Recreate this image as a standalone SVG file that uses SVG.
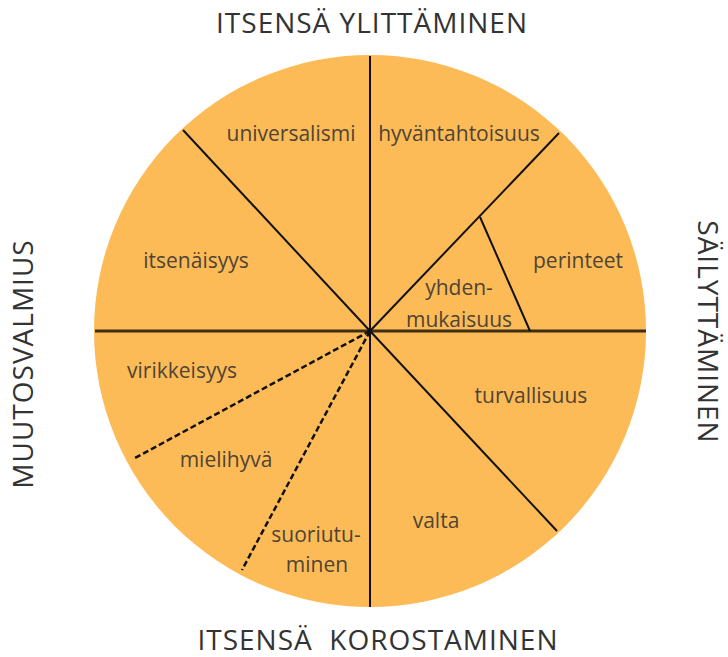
<svg xmlns="http://www.w3.org/2000/svg" width="728" height="657" viewBox="0 0 728 657">
<style>
.lbl{font-family:"Open Sans","Liberation Sans",sans-serif;font-size:21px;fill:#4f4434;text-anchor:middle}
.ttl{font-family:"Open Sans","Liberation Sans",sans-serif;font-size:28px;letter-spacing:1px;fill:#333;text-anchor:middle}
.ln{stroke:#111;stroke-width:2;fill:none}
.dash{stroke:#111;stroke-width:2.5;stroke-dasharray:6 3;fill:none}
</style>
<rect width="728" height="657" fill="#fff"/>
<g id="circle"><circle cx="370" cy="331" r="276" fill="#FDBB58"/></g>
<g id="connectors">
<line class="ln" x1="370" y1="56" x2="370" y2="607"/>
<line x1="95" y1="331" x2="646" y2="331" stroke="#3d2e14" stroke-width="3"/>
<line class="ln" x1="370" y1="331" x2="183" y2="130"/>
<line class="ln" x1="370" y1="331" x2="559" y2="133"/>
<line class="ln" x1="370" y1="331" x2="557" y2="531"/>
<line class="ln" x1="480" y1="217" x2="530" y2="331"/>
<line class="dash" x1="370" y1="331" x2="135" y2="458"/>
<line class="dash" x1="370" y1="331" x2="242" y2="570"/>
</g>
<g id="universalismi"><text class="lbl" x="291" y="141">universalismi</text></g>
<g id="hyvantahtoisuus"><text class="lbl" x="459" y="141">hyväntahtoisuus</text></g>
<g id="itsenaisyys"><text class="lbl" x="196" y="268">itsenäisyys</text></g>
<g id="perinteet"><text class="lbl" x="578" y="268">perinteet</text></g>
<g id="yhdenmukaisuus"><text class="lbl" x="459" y="295">yhden-</text><text class="lbl" x="459" y="327">mukaisuus</text></g>
<g id="turvallisuus"><text class="lbl" x="531" y="403">turvallisuus</text></g>
<g id="virikkeisyys"><text class="lbl" x="182" y="378">virikkeisyys</text></g>
<g id="mielihyva"><text class="lbl" x="226" y="467">mielihyvä</text></g>
<g id="suoriutuminen"><text class="lbl" x="316" y="542">suoriutu-</text><text class="lbl" x="317" y="572">minen</text></g>
<g id="valta"><text class="lbl" x="436" y="528">valta</text></g>
<g id="titles">
<text class="ttl" x="372" y="33">ITSENSÄ YLITTÄMINEN</text>
<text class="ttl" x="378" y="650" xml:space="preserve">ITSENSÄ  KOROSTAMINEN</text>
<text class="ttl" transform="translate(33,364) rotate(-90)" x="0" y="0">MUUTOSVALMIUS</text>
<text class="ttl" transform="translate(698,332) rotate(90)" x="0" y="0">SÄILYTTÄMINEN</text>
</g>
</svg>
